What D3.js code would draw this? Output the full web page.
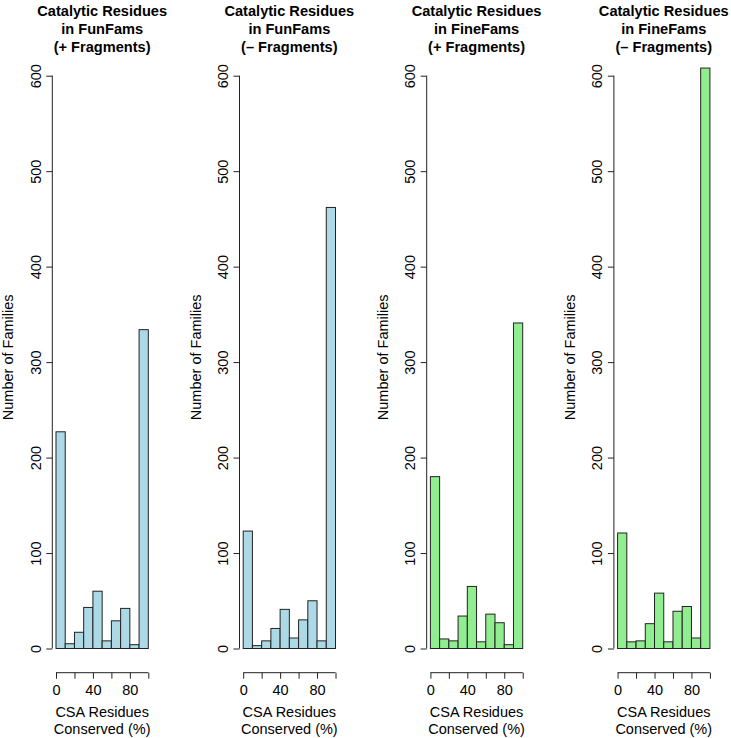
<!DOCTYPE html>
<html>
<head>
<meta charset="utf-8">
<script src="https://cdn.jsdelivr.net/npm/d3@7"></script>
<style>
  html, body { margin: 0; padding: 0; background: #fff; }
  svg { display: block; font-family: "Liberation Sans", Arial, Helvetica, sans-serif; }
</style>
</head>
<body>
<svg id="chart" width="731" height="738"></svg>
<script>
// ---- data ----
const binEdges = [0, 10, 20, 30, 40, 50, 60, 70, 80, 90, 100];
const panelTitles = [
  ["Catalytic Residues", "in FunFams", "(+ Fragments)"],
  ["Catalytic Residues", "in FunFams", "(\u2013 Fragments)"],
  ["Catalytic Residues", "in FineFams", "(+ Fragments)"],
  ["Catalytic Residues", "in FineFams", "(\u2013 Fragments)"]
];
const funfamsPlus   = [227, 5, 17, 43, 60, 8, 29, 42, 4, 334];
const funfamsMinus  = [123, 3, 8, 21, 41, 11, 30, 50, 8, 462];
const finefamsPlus  = [180, 10, 8, 34, 65, 7, 36, 27, 4, 341];
const finefamsMinus = [121, 7, 8, 26, 58, 7, 39, 44, 11, 608];
const seriesValues = [funfamsPlus, funfamsMinus, finefamsPlus, finefamsMinus];
const panelColors = ["#ADD8E6", "#ADD8E6", "#90EE90", "#90EE90"];
const yTicks = [0, 100, 200, 300, 400, 500, 600];
const xTicks = [0, 20, 40, 60, 80, 100];
const xTickLabels = [0, 40, 80];
const yLabel = "Number of Families";
const xLabelLines = ["CSA Residues", "Conserved (%)"];

// ---- layout ----
const svg = d3.select("#chart");
const panelStep = 187.2;
const plotLeft0 = 52.3, plotRight0 = 152.0;
const xAxisY = 672.7;
const fontSize = 14.5;

seriesValues.forEach((vals, i) => {
  const off = panelStep * i;
  const x = d3.scaleLinear().domain([-4, 104]).range([plotLeft0 + off, plotRight0 + off]);
  const y = d3.scaleLinear().domain([0, 600]).range([648.5, 75.7]);
  const g = svg.append("g");

  // bars
  const bins = vals.map((v, k) => ({x0: binEdges[k], x1: binEdges[k + 1], v}));
  g.selectAll("rect.bar").data(bins).enter().append("rect")
    .attr("class", "bar")
    .attr("x", d => x(d.x0))
    .attr("width", d => x(d.x1) - x(d.x0))
    .attr("y", d => y(d.v))
    .attr("height", d => y(0) - y(d.v))
    .attr("fill", panelColors[i])
    .attr("stroke", "#222")
    .attr("stroke-width", 1);

  // y axis
  const ya = g.append("g")
    .attr("transform", `translate(${x(-4)},0)`)
    .call(d3.axisLeft(y).tickValues(yTicks).tickSize(6).tickPadding(0).tickSizeOuter(0));
  ya.select(".domain").attr("stroke", "#222").attr("d", `M0,${y(0)}V${y(600)}`);
  ya.selectAll(".tick line").attr("stroke", "#222");
  ya.selectAll(".tick text")
    .attr("x", 0).attr("dy", null).attr("y", -11.6)
    .attr("transform", "rotate(-90)")
    .attr("text-anchor", "middle")
    .attr("fill", "#000")
    .style("font-size", fontSize + "px")
    .style("font-family", "Liberation Sans, Arial, sans-serif");

  // x axis
  const xa = g.append("g")
    .attr("transform", `translate(0,${xAxisY})`)
    .call(d3.axisBottom(x).tickValues(xTicks).tickSize(6).tickSizeOuter(0)
      .tickFormat(d => xTickLabels.includes(d) ? d : ""));
  xa.select(".domain").attr("stroke", "#222").attr("d", `M${x(0)},0H${x(100)}`);
  xa.selectAll(".tick line").attr("stroke", "#222");
  xa.selectAll(".tick text")
    .attr("y", 22.5).attr("dy", null)
    .attr("fill", "#000")
    .style("font-size", fontSize + "px")
    .style("font-family", "Liberation Sans, Arial, sans-serif");

  // y label
  g.append("text")
    .attr("transform", `translate(${13.3 + off},${(y(-25) + y(635)) / 2}) rotate(-90)`)
    .attr("text-anchor", "middle")
    .style("font-size", fontSize + "px")
    .text(yLabel);

  // x label
  const cx = (x(-4) + x(104)) / 2;
  xLabelLines.forEach((t, k) => {
    g.append("text")
      .attr("x", cx).attr("y", 716.5 + k * 17.5)
      .attr("text-anchor", "middle")
      .style("font-size", fontSize + "px")
      .text(t);
  });

  // title
  panelTitles[i].forEach((t, k) => {
    g.append("text")
      .attr("x", cx).attr("y", 16 + k * 18)
      .attr("text-anchor", "middle")
      .style("font-size", "14.6px")
      .style("font-weight", "bold")
      .text(t);
  });
});
</script>
</body>
</html>
